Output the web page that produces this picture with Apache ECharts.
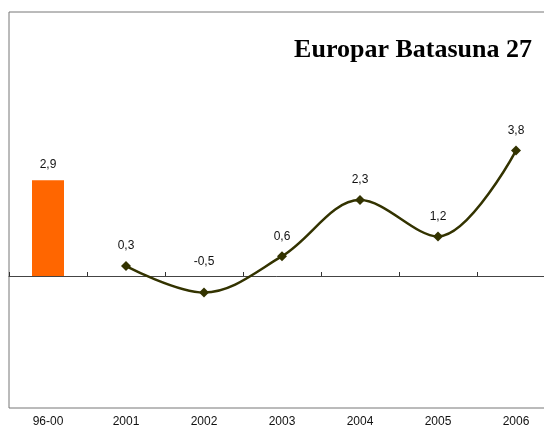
<!DOCTYPE html>
<html>
<head>
<meta charset="utf-8">
<script src="https://cdn.jsdelivr.net/npm/echarts@6/dist/echarts.min.js"></script>
<style>
  html, body { margin: 0; padding: 0; background: #fff; }
  #chart { width: 544px; height: 439px; }
</style>
</head>
<body>
<div id="chart"></div>
<script>
var categories = ['96-00', '2001', '2002', '2003', '2004', '2005', '2006'];
var barValues = [2.9, '-', '-', '-', '-', '-', '-'];
var lineValues = ['-', 0.3, -0.5, 0.6, 2.3, 1.2, 3.8];

var comma = function (p) {
    return String(p.value).replace('.', ',');
};

var lineData = lineValues.map(function (v) {
    // the negative label sits a bit higher in the original
    if (v !== '-' && v < 0) {
        return { value: v, label: { distance: 20 } };
    }
    return v;
});

var myChart = echarts.init(document.getElementById('chart'));
myChart.setOption({
    backgroundColor: '#fff',
    animation: false,
    title: {
        text: 'Europar Batasuna 27',
        right: 7,
        top: 32,
        textStyle: {
            fontFamily: 'Liberation Serif',
            fontWeight: 'bold',
            fontSize: 26,
            color: '#000'
        }
    },
    grid: {
        left: 9,
        width: 546,
        top: 12,
        bottom: 31,
        outerBoundsMode: 'none', // plot runs past the right edge
        show: true,
        borderColor: '#777',
        borderWidth: 1,
        backgroundColor: '#fff'
    },
    xAxis: [
        {
            type: 'category',
            data: categories,
            axisLine: { show: true, onZero: true, lineStyle: { color: '#444', width: 1 } },
            axisTick: { show: true, inside: true, length: 4, lineStyle: { color: '#333', width: 1 } },
            axisLabel: { show: false }
        },
        {
            type: 'category',
            data: categories,
            position: 'bottom',
            axisLine: { show: false },
            axisTick: { show: false },
            axisLabel: {
                margin: 8,
                fontFamily: 'Liberation Sans',
                fontSize: 12,
                color: '#111'
            }
        }
    ],
    yAxis: {
        type: 'value',
        min: -4,
        max: 8,
        interval: 4,
        show: false,
        splitLine: { show: false }
    },
    series: [
        {
            type: 'bar',
            data: barValues,
            barWidth: 32,
            itemStyle: { color: '#ff6600' },
            label: {
                show: true,
                position: 'top',
                distance: 10,
                formatter: comma,
                fontFamily: 'Liberation Sans',
                fontSize: 12,
                color: '#111'
            }
        },
        {
            type: 'line',
            data: lineData,
            smooth: 0.35,
            symbol: 'diamond',
            symbolSize: 10,
            lineStyle: { color: '#333300', width: 2.5 },
            itemStyle: { color: '#333300' },
            label: {
                show: true,
                position: 'top',
                distance: 9,
                formatter: comma,
                fontFamily: 'Liberation Sans',
                fontSize: 12,
                color: '#111'
            }
        }
    ]
});
</script>
</body>
</html>
